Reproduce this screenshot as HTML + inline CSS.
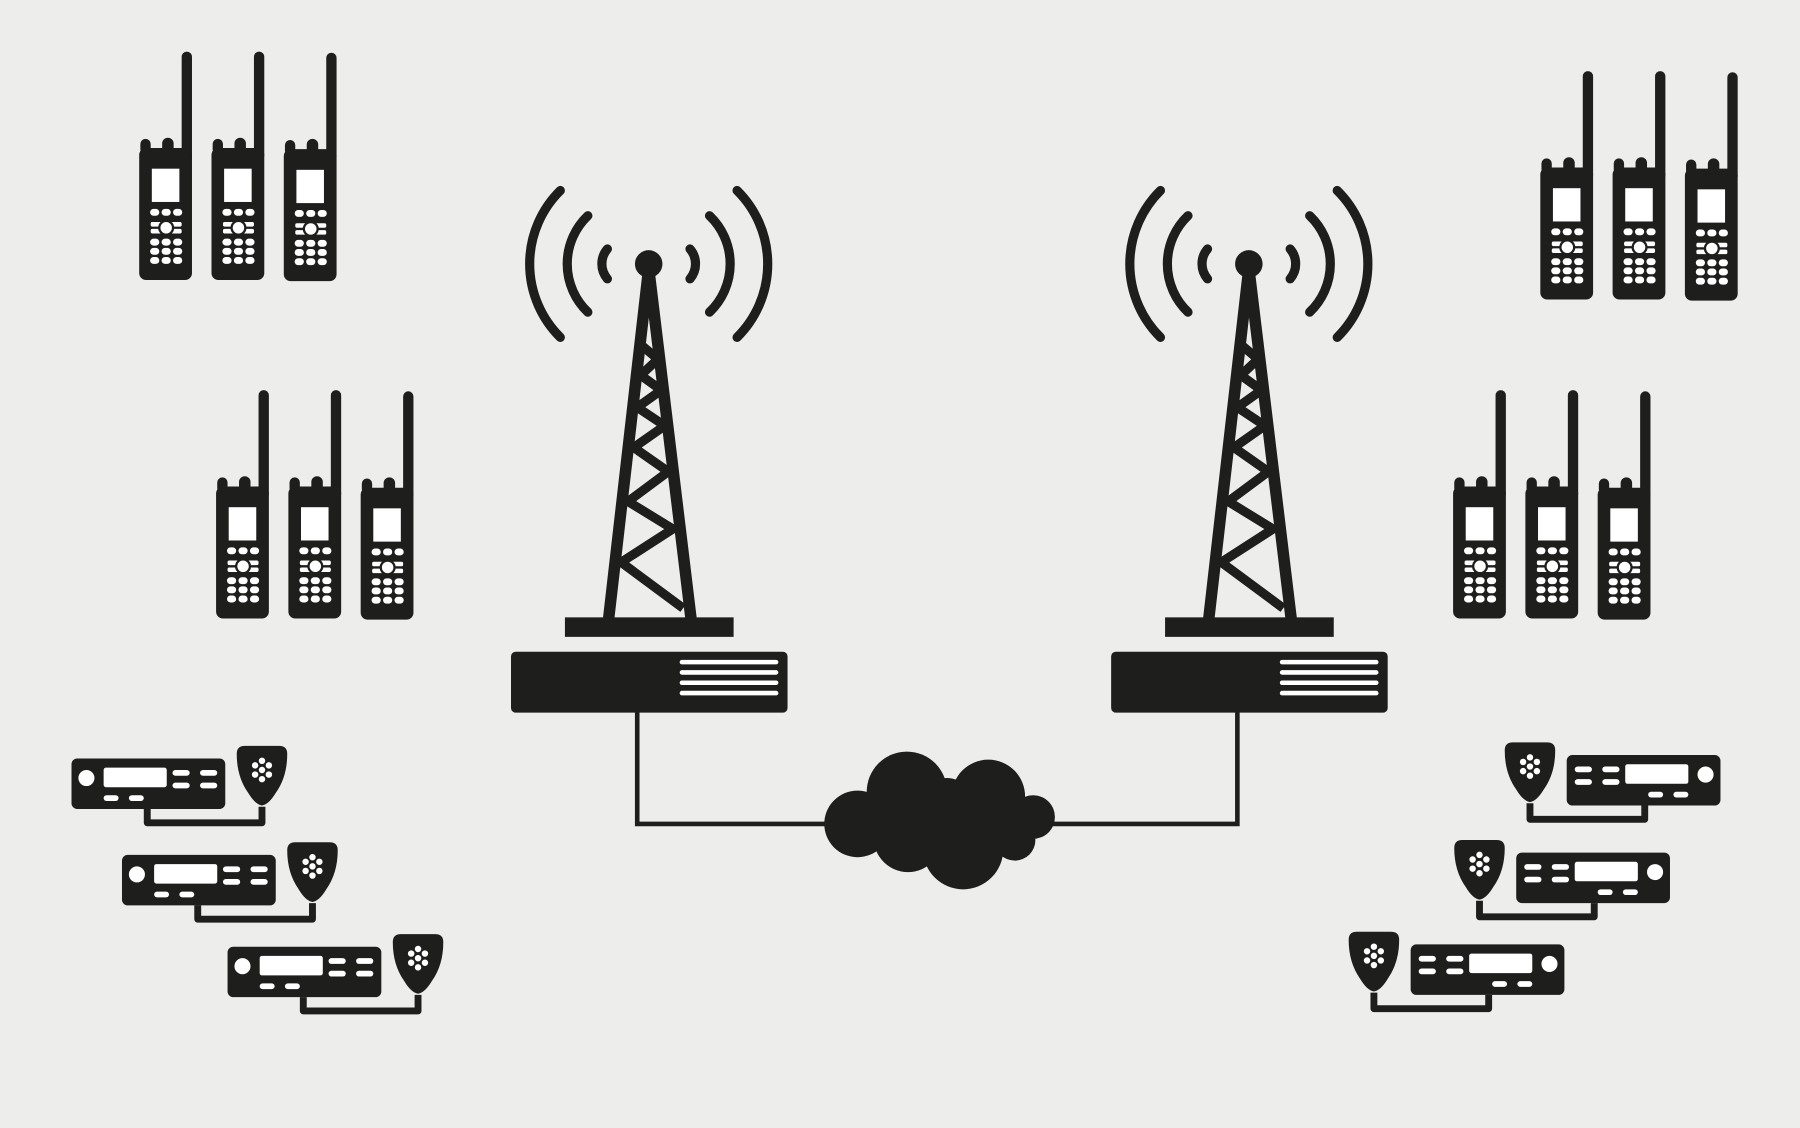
<!DOCTYPE html>
<html><head><meta charset="utf-8"><style>html,body{margin:0;padding:0;background:#ededeb}svg{display:block}</style></head>
<body>
<svg width="1800" height="1128" viewBox="0 0 1568 983" xmlns="http://www.w3.org/2000/svg">
<defs>
<g id="hh">
 <rect x="37" y="0" width="9" height="95" rx="4.5" fill="#1e1e1c"/>
 <rect x="1" y="76" width="9" height="14" rx="4.5" fill="#1e1e1c"/>
 <rect x="20" y="75" width="10" height="14" rx="5" fill="#1e1e1c"/>
 <rect x="0" y="84" width="46" height="115" rx="6" fill="#1e1e1c"/>
 <rect x="11" y="102" width="24" height="29" fill="#fff"/>
 <g fill="#fff">
  <rect x="9.5" y="137" width="8" height="6" rx="3"/><rect x="19.5" y="137" width="8" height="6" rx="3"/><rect x="29.5" y="137" width="8" height="6" rx="3"/>
  <rect x="10" y="148.5" width="27" height="4" rx="1.5"/><rect x="10" y="154.5" width="27" height="4" rx="1.5"/>
  <rect x="9.5" y="163" width="8" height="6" rx="3"/><rect x="19.5" y="163" width="8" height="6" rx="3"/><rect x="29.5" y="163" width="8" height="6" rx="3"/>
  <rect x="9.5" y="171" width="8" height="6" rx="3"/><rect x="19.5" y="171" width="8" height="6" rx="3"/><rect x="29.5" y="171" width="8" height="6" rx="3"/>
  <rect x="9.5" y="179" width="8" height="6" rx="3"/><rect x="19.5" y="179" width="8" height="6" rx="3"/><rect x="29.5" y="179" width="8" height="6" rx="3"/>
 </g>
 <circle cx="23.5" cy="153.5" r="7" fill="#1e1e1c"/>
 <circle cx="23.5" cy="153.5" r="5" fill="#fff"/>
</g>
<g id="mob">
 <path d="M66 44 V56 H166 V42" fill="none" stroke="#1e1e1c" stroke-width="6" stroke-linejoin="round"/>
 <rect x="0" y="0" width="134" height="44" rx="5" fill="#1e1e1c"/>
 <circle cx="13" cy="17" r="7" fill="#fff"/>
 <rect x="28" y="8" width="55" height="17" rx="2" fill="#fff"/>
 <g fill="#fff">
  <rect x="88" y="10" width="15" height="5" rx="2.5"/><rect x="112" y="10" width="15" height="5" rx="2.5"/>
  <rect x="88" y="21" width="15" height="5" rx="2.5"/><rect x="112" y="21" width="15" height="5" rx="2.5"/>
  <rect x="28" y="32" width="13" height="5" rx="2.5"/><rect x="50" y="32" width="13" height="5" rx="2.5"/>
 </g>
 <path d="M151 -11 H181 Q188 -11 188 -4 Q188 16 178 30 Q172 40 166 41 Q160 40 154 30 Q144 16 144 -4 Q144 -11 151 -11 Z" fill="#1e1e1c"/>
 <g fill="#fff">
  <circle cx="166" cy="2" r="2.8"/><circle cx="160" cy="6" r="2.8"/><circle cx="172" cy="6" r="2.8"/>
  <circle cx="166" cy="10" r="2.8"/><circle cx="160" cy="14" r="2.8"/><circle cx="172" cy="14" r="2.8"/><circle cx="166" cy="18" r="2.8"/>
 </g>
</g>
<g id="tower">
 <g fill="none" stroke="#1e1e1c" stroke-width="8" stroke-linecap="round">
  <path d="M-36 -13 A20 20 0 0 0 -36 13"/>
  <path d="M36 -13 A20 20 0 0 1 36 13"/>
  <path d="M-53 -42 A58 58 0 0 0 -53 42"/>
  <path d="M53 -42 A58 58 0 0 1 53 42"/>
  <path d="M-77 -64 A90 90 0 0 0 -77 64"/>
  <path d="M77 -64 A90 90 0 0 1 77 64"/>
 </g>
 <circle cx="0" cy="0" r="12" fill="#1e1e1c"/>
 <g stroke="#1e1e1c" stroke-width="10" fill="none" stroke-linejoin="miter">
  <path d="M0 4 L-35 310 M0 4 L37 310"/>
  <path stroke-width="8" d="M-5 72 L8 83 L-7 97 L11 110 L-10 125 L14 141 L-13 160 L17 181 L-18 207 L21 231 L-24 260 L30 300"/>
 </g>
 <rect x="-73" y="308" width="147" height="17" fill="#1e1e1c"/>
 <rect x="-120" y="338" width="241" height="53" rx="4" fill="#1e1e1c"/>
 <g fill="#fff">
  <rect x="27" y="345" width="86" height="4" rx="2"/><rect x="27" y="354" width="86" height="4" rx="2"/>
  <rect x="27" y="363" width="86" height="4" rx="2"/><rect x="27" y="372" width="86" height="4" rx="2"/>
 </g>
</g>
</defs>
<rect width="1568" height="983" fill="#ededeb"/>
<path d="M555 620 V718 H1078 V620" fill="none" stroke="#1e1e1c" stroke-width="4"/>
<g fill="#1e1e1c">
 <circle cx="790" cy="690" r="35"/><circle cx="747" cy="718" r="29"/><circle cx="791" cy="730" r="30"/>
 <circle cx="861" cy="694" r="32"/><circle cx="839" cy="740" r="35"/><circle cx="900" cy="712" r="19"/>
 <circle cx="884" cy="732" r="18"/><circle cx="825" cy="700" r="22"/>
</g>
<use href="#tower" x="565" y="230"/>
<use href="#tower" x="1088" y="230"/>
<use href="#hh" x="121" y="45"/><use href="#hh" x="184" y="45"/><use href="#hh" x="247" y="46"/>
<use href="#hh" x="188" y="340"/><use href="#hh" x="251" y="340"/><use href="#hh" x="314" y="341"/>
<use href="#hh" x="1342" y="62"/><use href="#hh" x="1405" y="62"/><use href="#hh" x="1468" y="63"/>
<use href="#hh" x="1266" y="340"/><use href="#hh" x="1329" y="340"/><use href="#hh" x="1392" y="341"/>
<use href="#mob" transform="translate(62 661)"/>
<use href="#mob" transform="translate(106 745)"/>
<use href="#mob" transform="translate(198 825)"/>
<use href="#mob" transform="translate(1499 658) scale(-1 1)"/>
<use href="#mob" transform="translate(1455 743) scale(-1 1)"/>
<use href="#mob" transform="translate(1363 823) scale(-1 1)"/>
</svg>
</body></html>
